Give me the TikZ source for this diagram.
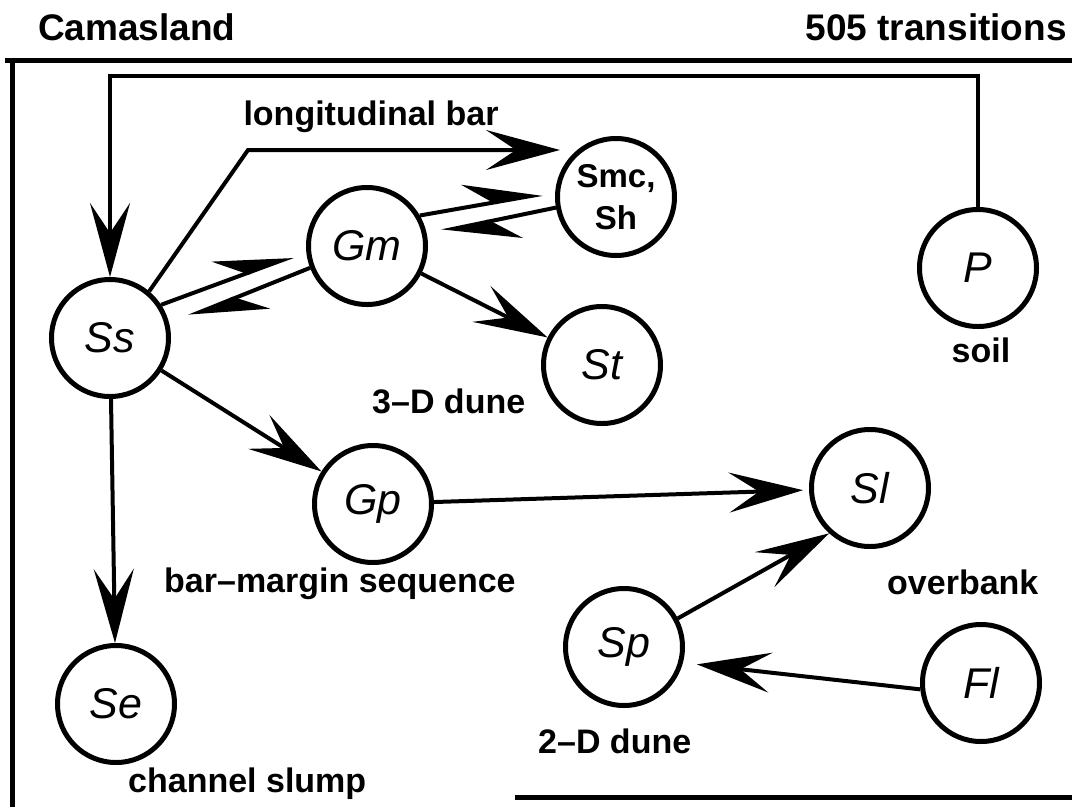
\documentclass[tikz,border=0pt]{standalone}
\usepackage{fontspec}
\setmainfont{Liberation Sans}
\usetikzlibrary{arrows.meta,calc}

\begin{document}
\begin{tikzpicture}[x=1pt,y=-1pt,
  state/.style={circle, draw, line width=5pt, minimum size=117pt, inner sep=0pt,
    font=\fontsize{43}{43}\selectfont\itshape},
  lbl/.style={font=\fontsize{34}{34}\selectfont\bfseries, inner sep=0pt},
  conn/.style={line width=4pt},
  arr/.style={conn, -{Stealth[length=74pt, width=40pt, inset=30pt]}},
  harp/.style={conn, -{Stealth[harpoon, length=72pt, width=46pt, inset=28pt]}},
  frame/.style={line width=5pt},
]
\useasboundingbox (0,0) rectangle (1072,807);

% heading
\node[lbl, font=\fontsize{37}{37}\selectfont\bfseries, anchor=base west] (title) at (38,40) {Camasland};
\node[lbl, font=\fontsize{37}{37}\selectfont\bfseries, anchor=base east] (count) at (1067,40) {505 transitions};

% frame
\draw[frame] (5,60) -- (1072,60);
\draw[frame] (12,60) -- (12,807);
\draw[frame] (515,797) -- (1072,797);

% facies states
\node[state] (Ss) at (110,338) {Ss};
\node[state] (Gm) at (367,246) {Gm};
\node[state, font=\fontsize{33}{42}\selectfont\bfseries, align=center] (Smc) at (616,197) {Smc,\\Sh};
\node[state] (P)  at (978,268) {P};
\node[state] (St) at (602,365) {St};
\node[state] (Gp) at (373,504) {Gp};
\node[state] (Sl) at (870,488) {Sl};
\node[state] (Sp) at (624,647) {Sp};
\node[state] (Fl) at (981,683) {Fl};
\node[state] (Se) at (116,704) {Se};

% element names
\node[lbl, anchor=base] (lbar) at (371,125) {longitudinal bar};
\node[lbl, anchor=base west] (dune3) at (372,413) {3\textendash D dune};
\node[lbl, anchor=base] (soil) at (981,362) {soil};
\node[lbl, anchor=base west] (bms) at (164,592) {bar\textendash margin sequence};
\node[lbl, anchor=base west] (ob) at (887,594) {overbank};
\node[lbl, anchor=base west] (dune2) at (538,753) {2\textendash D dune};
\node[lbl, anchor=base west] (cs) at (128,792) {channel slump};

% transitions
\coordinate (fb) at (0,76);
\draw[arr] (P.north) -- (P.north |- fb) -| (Ss.north);

\coordinate (lbk) at (248,150);
\coordinate (lbe) at (560,150);
\draw[arr] (Ss.50) -- (lbk) -- (lbe);

\draw[harp, shorten >=14pt] (Ss.33) -- (Gm.185);
\draw[harp, shorten >=21pt] (Gm.201) -- (Ss.13);
\draw[harp, shorten >=13pt] (Gm.30) -- (Smc.175);
\draw[harp, shorten >=15pt] (Smc.190) -- (Gm.11);

\draw[arr] (Gm) -- (St);
\draw[arr] (Ss) -- (Gp);
\draw[arr] (Ss) -- (Se);
\draw[arr, shorten >=6pt] (Gp) -- (Sl);
\draw[arr] (Sp.28) -- (Sl.228);
\draw[arr, shorten >=14pt] (Fl.186) -- (Sp.-15);
\end{tikzpicture}
\end{document}
